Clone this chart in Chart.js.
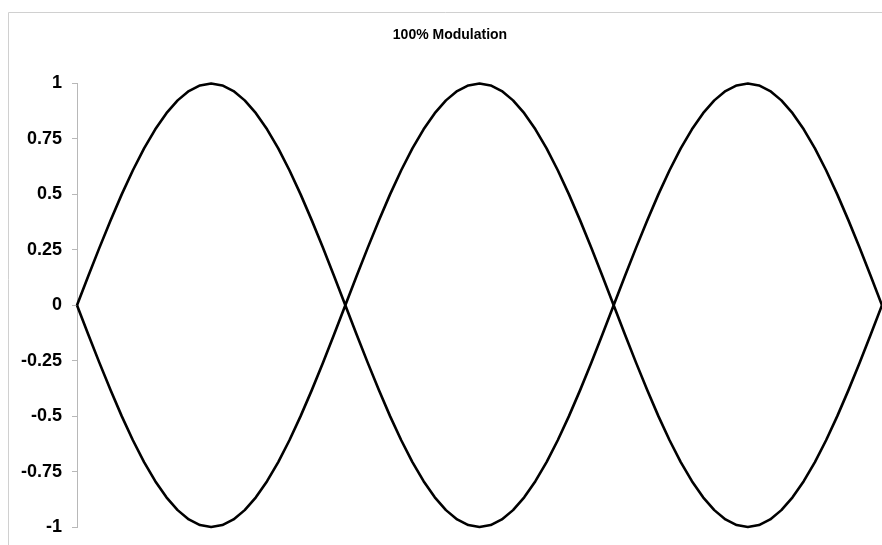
<!DOCTYPE html>
<html>
<head>
<meta charset="utf-8">
<script src="https://cdn.jsdelivr.net/npm/chart.js@4/dist/chart.umd.min.js"></script>
<style>
html,body{margin:0;padding:0;background:#fff;}
#wrap{width:882px;height:545px;position:relative;}
</style>
</head>
<body>
<div id="wrap"><canvas id="c" width="882" height="545"></canvas></div>
<script>
const chartTitle = '100% Modulation';
const phase = [0,7.5,15,22.5,30,37.5,45,52.5,60,67.5,75,82.5,90,97.5,105,112.5,120,127.5,135,142.5,150,157.5,165,172.5,180,
187.5,195,202.5,210,217.5,225,232.5,240,247.5,255,262.5,270,277.5,285,292.5,300,307.5,315,322.5,330,337.5,345,352.5,360,
367.5,375,382.5,390,397.5,405,412.5,420,427.5,435,442.5,450,457.5,465,472.5,480,487.5,495,502.5,510,517.5,525,532.5,540];
const upper = [0,0.1305,0.2588,0.3827,0.5,0.6088,0.7071,0.7934,0.866,0.9239,0.9659,0.9914,1,0.9914,0.9659,0.9239,0.866,0.7934,0.7071,0.6088,0.5,0.3827,0.2588,0.1305,0,
0.1305,0.2588,0.3827,0.5,0.6088,0.7071,0.7934,0.866,0.9239,0.9659,0.9914,1,0.9914,0.9659,0.9239,0.866,0.7934,0.7071,0.6088,0.5,0.3827,0.2588,0.1305,0,
0.1305,0.2588,0.3827,0.5,0.6088,0.7071,0.7934,0.866,0.9239,0.9659,0.9914,1,0.9914,0.9659,0.9239,0.866,0.7934,0.7071,0.6088,0.5,0.3827,0.2588,0.1305,0];
const lower = [0,-0.1305,-0.2588,-0.3827,-0.5,-0.6088,-0.7071,-0.7934,-0.866,-0.9239,-0.9659,-0.9914,-1,-0.9914,-0.9659,-0.9239,-0.866,-0.7934,-0.7071,-0.6088,-0.5,-0.3827,-0.2588,-0.1305,0,
-0.1305,-0.2588,-0.3827,-0.5,-0.6088,-0.7071,-0.7934,-0.866,-0.9239,-0.9659,-0.9914,-1,-0.9914,-0.9659,-0.9239,-0.866,-0.7934,-0.7071,-0.6088,-0.5,-0.3827,-0.2588,-0.1305,0,
-0.1305,-0.2588,-0.3827,-0.5,-0.6088,-0.7071,-0.7934,-0.866,-0.9239,-0.9659,-0.9914,-1,-0.9914,-0.9659,-0.9239,-0.866,-0.7934,-0.7071,-0.6088,-0.5,-0.3827,-0.2588,-0.1305,0];
const yTickValues = [-1,-0.75,-0.5,-0.25,0,0.25,0.5,0.75,1];
const yTickLabels = ['-1','-0.75','-0.5','-0.25','0','0.25','0.5','0.75','1'];

const framePlugin = {
  id: 'frame',
  beforeDraw(chart) {
    const ctx = chart.ctx;
    ctx.save();
    ctx.strokeStyle = '#d0d0d0';
    ctx.lineWidth = 1;
    ctx.beginPath();
    ctx.moveTo(8.5, 600);
    ctx.lineTo(8.5, 12.5);
    ctx.lineTo(900, 12.5);
    ctx.stroke();
    ctx.fillStyle = '#000';
    ctx.font = 'bold 14px "Liberation Sans", Arial, sans-serif';
    ctx.textAlign = 'center';
    ctx.textBaseline = 'middle';
    ctx.fillText(chartTitle, 450, 35.5);
    ctx.restore();
  }
};

new Chart(document.getElementById('c'), {
  type: 'line',
  data: {
    labels: phase,
    datasets: [
      {label: 'upper', data: upper, borderColor: '#000', borderWidth: 2.6, pointRadius: 0, fill: false, tension: 0, borderJoinStyle: 'round'},
      {label: 'lower', data: lower, borderColor: '#000', borderWidth: 2.6, pointRadius: 0, fill: false, tension: 0, borderJoinStyle: 'round'}
    ]
  },
  options: {
    responsive: false,
    animation: false,
    clip: false,
    layout: {padding: {left: 0, right: 0, top: 83.5, bottom: 18}},
    plugins: {
      legend: {display: false},
      tooltip: {enabled: false},
      title: {display: false}
    },
    scales: {
      x: {
        type: 'category',
        display: false,
        offset: false
      },
      y: {
        min: -1,
        max: 1,
        afterBuildTicks(scale) { scale.ticks = yTickValues.map(v => ({value: v})); },
        afterFit(scale) { scale.width = 77; scale.paddingTop = 0; scale.paddingBottom = 0; },
        ticks: {
          color: '#000',
          padding: 10,
          font: {family: 'Liberation Sans, Arial, sans-serif', size: 18, weight: 'bold'},
          callback: (v) => { const i = yTickValues.indexOf(v); return i >= 0 ? yTickLabels[i] : ''; }
        },
        grid: {drawOnChartArea: false, tickLength: 5, color: '#b8b8b8'},
        border: {color: '#b8b8b8', width: 1}
      }
    }
  },
  plugins: [framePlugin]
});
</script>
</body>
</html>
